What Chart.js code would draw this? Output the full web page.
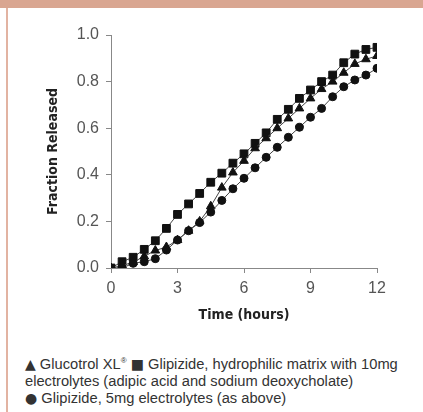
<!DOCTYPE html>
<html>
<head>
<meta charset="utf-8">
<script src="https://cdn.jsdelivr.net/npm/chart.js@4.4.1/dist/chart.umd.min.js"></script>
<style>
  html, body { margin: 0; padding: 0; background: #fff; }
  #wrap { position: relative; width: 423px; height: 412px; overflow: hidden; background: #fff; }
  #topband { position: absolute; left: 0; top: 0; width: 423px; height: 8px; background: #d9a691; }
  #leftline { position: absolute; left: 6px; top: 8px; width: 2px; height: 404px; background: #e2b3a2; }
  #cv { position: absolute; left: 0; top: 0; }
  #caption { position: absolute; left: 25px; top: 356px; width: 398px;
             font-family: "Liberation Sans", Arial, sans-serif; font-size: 14.7px; line-height: 17px; color: #333; }
  #caption div { white-space: nowrap; height: 17px; }
  #caption sup { font-size: 8px; line-height: 0; vertical-align: 6px; }
  #caption .sym { font-family: "DejaVu Sans", sans-serif; font-size: 14px; line-height: 0; }
</style>
</head>
<body>
<div id="wrap">
  <div id="topband"></div>
  <div id="leftline"></div>
  <canvas id="cv" width="423" height="324"></canvas>
  <div id="caption">
    <div><span class="sym">▲</span> Glucotrol XL<sup>®</sup> <span class="sym">■</span> Glipizide, hydrophilic matrix with 10mg</div>
    <div>electrolytes (adipic acid and sodium deoxycholate)</div>
    <div><span class="sym">●</span> Glipizide, 5mg electrolytes (as above)</div>
  </div>
</div>
<script>
const hours = [0,0.5,1,1.5,2,2.5,3,3.5,4,4.5,5,5.5,6,6.5,7,7.5,8,8.5,9,9.5,10,10.5,11,11.5,12];
const glucotrolXL   = [0,0.010,0.025,0.050,0.075,0.090,0.120,0.160,0.200,0.265,0.345,0.410,0.460,0.514,0.557,0.600,0.642,0.685,0.728,0.768,0.800,0.838,0.876,0.896,0.910];
const glipizide10mg = [0,0.027,0.046,0.080,0.117,0.170,0.230,0.275,0.320,0.368,0.407,0.450,0.490,0.535,0.580,0.638,0.681,0.728,0.764,0.800,0.828,0.881,0.918,0.938,0.947];
const glipizide5mg  = [0,0.000,0.020,0.027,0.040,0.077,0.120,0.160,0.195,0.240,0.290,0.340,0.385,0.430,0.475,0.518,0.561,0.604,0.647,0.685,0.735,0.778,0.807,0.828,0.857];
const xTicks = [0,3,6,9,12];
const yTicks = [0,0.2,0.4,0.6,0.8,1.0];

const toXY = arr => arr.map((v,i) => ({x: hours[i], y: v}));
const base = {
  borderColor: '#444', borderWidth: 1, pointBackgroundColor: '#111', pointBorderColor: '#111',
  pointBorderWidth: 1, showLine: true, tension: 0, fill: false
};
const tickFont = { family: '"Liberation Sans", Arial, sans-serif', size: 16 };
const titleFont = { family: '"Liberation Sans Narrow", "DejaVu Sans Condensed", sans-serif', size: 14, weight: 'bold' };

new Chart(document.getElementById('cv'), {
  type: 'scatter',
  data: {
    datasets: [
      Object.assign({ label: 'Glipizide 5mg', data: toXY(glipizide5mg), pointStyle: 'circle', pointRadius: 4 }, base),
      Object.assign({ label: 'Glucotrol XL', data: toXY(glucotrolXL), pointStyle: 'triangle', pointRadius: 5 }, base),
      Object.assign({ label: 'Glipizide 10mg', data: toXY(glipizide10mg), pointStyle: 'rect', pointRadius: 5.5 }, base)
    ]
  },
  options: {
    responsive: false, animation: false,
    layout: { padding: { left: 0, right: 46, top: 35, bottom: 0 } },
    plugins: { legend: { display: false }, tooltip: { enabled: false } },
    scales: {
      x: {
        type: 'linear', min: 0, max: 12,
        afterBuildTicks: s => { s.ticks = xTicks.map(v => ({value: v})); },
        afterFit: s => { s.height = 56; },
        ticks: { font: tickFont, color: '#555', padding: 6, maxRotation: 0 },
        grid: { drawOnChartArea: false, drawTicks: true, tickLength: 5, color: '#888' },
        border: { display: true, color: '#888', width: 1 },
        title: { display: true, text: 'Time (hours)', font: titleFont, color: '#222', padding: { top: 0, bottom: 0 } }
      },
      y: {
        type: 'linear', min: 0, max: 1,
        afterBuildTicks: s => { s.ticks = yTicks.map(v => ({value: v})); },
        afterFit: s => { s.width = 111; },
        ticks: { font: tickFont, color: '#555', padding: 7, callback: v => Number(v).toFixed(1) },
        grid: { drawOnChartArea: false, drawTicks: true, tickLength: 5, color: '#888' },
        border: { display: true, color: '#888', width: 1 },
        title: { display: true, text: 'Fraction Released', font: titleFont, color: '#222', padding: { top: 45, bottom: 0 } }
      }
    }
  }
});
</script>
</body>
</html>
